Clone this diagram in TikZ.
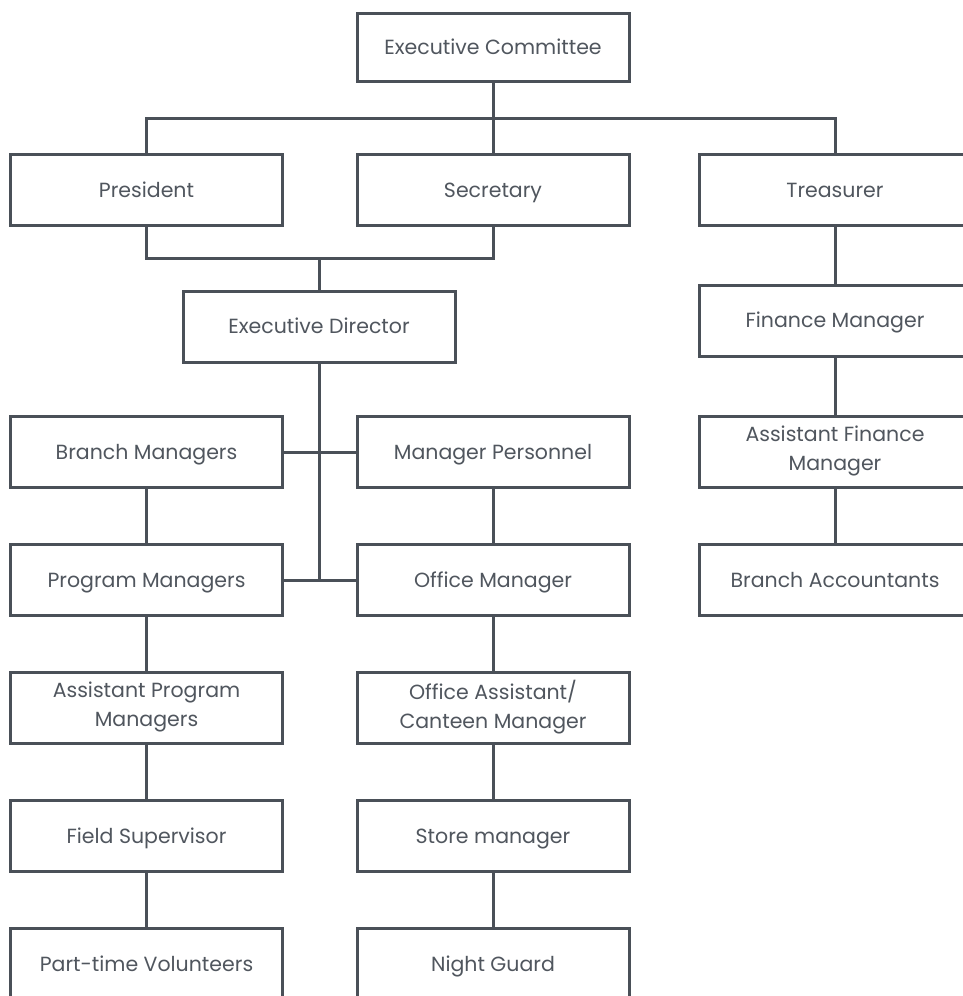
\documentclass[tikz,border=0pt]{standalone}
\usepackage{fontspec}
\setmainfont{Poppins}
\usepackage{xcolor}
\usepackage{tikz}
\usetikzlibrary{calc,positioning}
\definecolor{slate}{HTML}{4A5058}
\definecolor{slatetext}{HTML}{50565E}
\newcommand\unitstrut{\rule[-7.5pt]{0pt}{29.5pt}}

\tikzset{
  unit/.style={draw=slate, line width=3pt, fill=white, text=slatetext,
    minimum width=272pt, minimum height=71pt, align=center, inner sep=2pt,
    font=\fontsize{20.5}{28.5}\selectfont,
    execute at begin node=\unitstrut, execute at end node=\unitstrut},
  link/.style={draw=slate, line width=3pt}
}

\begin{document}
\begin{tikzpicture}[x=1pt, y=-1pt]
\useasboundingbox (0,0) rectangle (963,996);
% top levels
\node[unit, minimum height=68pt] (ec) at (493,47.5) {Executive Committee};
\node[unit] (pres) at (146.5,190) {President};
\node[unit] (sec)  at (493,190) {Secretary};
\node[unit] (tre)  at (835,190) {Treasurer};
\node[unit] (ed)   at (319,326.5) {Executive Director};
% left and middle columns
\node[unit] (branch) at (146.5,452) {Branch Managers};
\node[unit] (prog)   at (146.5,580) {Program Managers};
\node[unit] (asprog) at (146.5,708) {Assistant Program\\Managers};
\node[unit] (field)  at (146.5,836) {Field Supervisor};
\node[unit] (volun)  at (146.5,964) {Part-time Volunteers};
\node[unit] (pers)   at (493,452) {Manager Personnel};
\node[unit] (office) at (493,580) {Office Manager};
\node[unit] (canteen) at (493,708) {Office Assistant/\\Canteen Manager};
\node[unit] (store)  at (493,836) {Store manager};
\node[unit] (guard)  at (493,964) {Night Guard};
% finance column
\node[unit] (fin)   at (835,320.5) {Finance Manager};
\node[unit] (asfin) at (835,452) {Assistant Finance\\Manager};
\node[unit] (acc)   at (835,580) {Branch Accountants};

\coordinate (bus1) at ($(ec.south)!.5!(sec.north)$);
\coordinate (bus2) at ($(pres.south)!.5!(ed.north)$);

\draw[link] (ec.south) -- (sec.north);
\draw[link] (pres.north) |- (bus1) -| (tre.north);
\draw[link] (pres.south) |- (bus2) -| (sec.south);
\draw[link] (bus2 -| ed.north) -- (ed.north);
\draw[link] (ed.south) -- (ed.south |- prog.east);
\draw[link] (branch.east) -- (pers.west);
\draw[link] (prog.east) -- (office.west);
\foreach \a/\b in {branch/prog, prog/asprog, asprog/field, field/volun,
  pers/office, office/canteen, canteen/store, store/guard,
  tre/fin, fin/asfin, asfin/acc}
  \draw[link] (\a.south) -- (\b.north);
\end{tikzpicture}
\end{document}
